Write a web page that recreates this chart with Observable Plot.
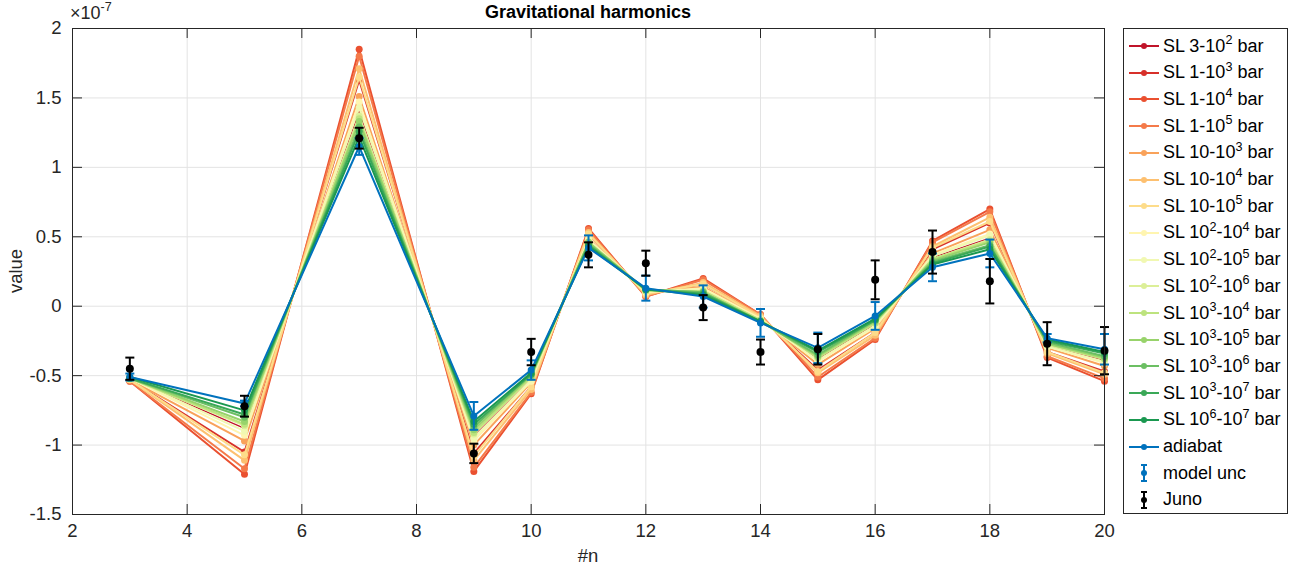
<!DOCTYPE html>
<html><head><meta charset="utf-8">
<script src="https://cdn.jsdelivr.net/npm/d3@7"></script>
<script src="https://cdn.jsdelivr.net/npm/@observablehq/plot@0.6"></script>
<style>
body{margin:0;background:#fff;font-family:"Liberation Sans",Arial,Helvetica,sans-serif;color:#262626;}
#wrap{position:relative;width:1311px;height:575px;overflow:hidden;}
#wrap svg.plot{position:absolute;left:0;top:0;}
#wrap svg.plot text{font-size:18.5px !important;font-family:"Liberation Sans",Arial,sans-serif !important;}
.ov{position:absolute;white-space:nowrap;}
#title{left:0;width:1176px;text-align:center;top:2px;font-weight:bold;font-size:18px;color:#000;}
#xlab{left:0;width:1176px;text-align:center;top:545px;font-size:18.5px;}
#ylab{left:16px;top:271px;font-size:18.5px;transform:translate(-50%,-50%) rotate(-90deg);}
#expo{left:70px;top:3px;font-size:18px;}
sup{font-size:70%;vertical-align:0;position:relative;top:-0.6em;}
#legend{position:absolute;left:1123px;top:28px;width:163px;height:484px;border:1px solid #262626;background:#fff;}
.row{position:absolute;left:0;height:22px;display:flex;align-items:center;font-size:18px;color:#000;}
.row svg{width:36px;height:22px;margin-left:3px;margin-right:0px;}
</style></head><body>
<div id="wrap">
  <div id="title" class="ov">Gravitational harmonics</div>
  <div id="expo" class="ov">×10<sup>-7</sup></div>
  <div id="xlab" class="ov">#n</div>
  <div id="ylab" class="ov">value</div>
  <div id="legend"></div>
</div>
<script>
// harmonic degree
const ns = [3, 5, 7, 9, 10, 11, 12, 13, 14, 15, 16, 17, 18, 19, 20];

// series labels (HTML for superscripts) and colours
const slLabels = [
  "SL 3-10<sup>2</sup> bar", "SL 1-10<sup>3</sup> bar", "SL 1-10<sup>4</sup> bar", "SL 1-10<sup>5</sup> bar",
  "SL 10-10<sup>3</sup> bar", "SL 10-10<sup>4</sup> bar", "SL 10-10<sup>5</sup> bar",
  "SL 10<sup>2</sup>-10<sup>4</sup> bar", "SL 10<sup>2</sup>-10<sup>5</sup> bar", "SL 10<sup>2</sup>-10<sup>6</sup> bar",
  "SL 10<sup>3</sup>-10<sup>4</sup> bar", "SL 10<sup>3</sup>-10<sup>5</sup> bar", "SL 10<sup>3</sup>-10<sup>6</sup> bar",
  "SL 10<sup>3</sup>-10<sup>7</sup> bar", "SL 10<sup>6</sup>-10<sup>7</sup> bar"
];
const slColors = [
  "#c0142a", "#d7302a", "#ea5030", "#f47a4a", "#f9a25a", "#fdc070", "#fddc8a",
  "#fff5b0", "#f1f8b2", "#dcef98", "#bde37e", "#98d36b", "#6cbf63", "#3aa857", "#1a9850"
];

// values in units of 1e-7
const sl_3_1e2    = [-0.52, -0.88, 1.40, -0.93, -0.52, 0.47, 0.11, 0.12, -0.10, -0.38, -0.13, 0.35, 0.49, -0.28, -0.39];
const sl_1_1e3    = [-0.53, -1.05, 1.63, -1.06, -0.58, 0.52, 0.09, 0.16, -0.08, -0.46, -0.19, 0.41, 0.60, -0.33, -0.47];
const sl_1_1e4    = [-0.54, -1.21, 1.85, -1.19, -0.63, 0.56, 0.07, 0.20, -0.06, -0.53, -0.24, 0.47, 0.70, -0.37, -0.54];
const sl_1_1e5    = [-0.54, -1.17, 1.80, -1.16, -0.62, 0.55, 0.07, 0.19, -0.06, -0.51, -0.23, 0.46, 0.68, -0.36, -0.52];
const sl_10_1e3   = [-0.53, -0.97, 1.51, -1.00, -0.55, 0.49, 0.10, 0.14, -0.09, -0.42, -0.16, 0.38, 0.55, -0.30, -0.43];
const sl_10_1e4   = [-0.53, -1.11, 1.71, -1.11, -0.60, 0.53, 0.08, 0.17, -0.07, -0.48, -0.21, 0.43, 0.64, -0.34, -0.49];
const sl_10_1e5   = [-0.53, -1.07, 1.65, -1.08, -0.58, 0.52, 0.09, 0.16, -0.08, -0.47, -0.19, 0.42, 0.61, -0.33, -0.48];
const sl_1e2_1e4  = [-0.52, -0.93, 1.47, -0.97, -0.54, 0.48, 0.10, 0.13, -0.09, -0.40, -0.15, 0.37, 0.52, -0.29, -0.41];
const sl_1e2_1e5  = [-0.52, -0.90, 1.43, -0.95, -0.53, 0.48, 0.11, 0.12, -0.10, -0.39, -0.14, 0.36, 0.51, -0.29, -0.40];
const sl_1e2_1e6  = [-0.52, -0.86, 1.37, -0.92, -0.51, 0.46, 0.11, 0.11, -0.10, -0.37, -0.12, 0.34, 0.48, -0.28, -0.38];
const sl_1e3_1e4  = [-0.52, -0.85, 1.35, -0.91, -0.51, 0.46, 0.11, 0.11, -0.10, -0.37, -0.12, 0.34, 0.47, -0.27, -0.38];
const sl_1e3_1e5  = [-0.52, -0.83, 1.33, -0.89, -0.50, 0.46, 0.12, 0.10, -0.11, -0.36, -0.11, 0.33, 0.46, -0.27, -0.37];
const sl_1e3_1e6  = [-0.52, -0.80, 1.29, -0.87, -0.49, 0.45, 0.12, 0.10, -0.11, -0.35, -0.10, 0.32, 0.44, -0.26, -0.36];
const sl_1e3_1e7  = [-0.52, -0.78, 1.26, -0.85, -0.49, 0.44, 0.12, 0.09, -0.11, -0.33, -0.10, 0.31, 0.43, -0.25, -0.34];
const sl_1e6_1e7  = [-0.51, -0.75, 1.22, -0.83, -0.48, 0.43, 0.12, 0.08, -0.11, -0.32, -0.09, 0.30, 0.41, -0.24, -0.33];
const adiabat     = [-0.51, -0.70, 1.15, -0.79, -0.46, 0.42, 0.13, 0.07, -0.12, -0.30, -0.07, 0.28, 0.38, -0.23, -0.31];
const modelUnc    = [0.025, 0.02, 0.06, 0.10, 0.07, 0.09, 0.09, 0.08, 0.10, 0.11, 0.10, 0.10, 0.10, 0.03, 0.11];
const juno        = [-0.45, -0.72, 1.21, -1.06, -0.33, 0.37, 0.31, -0.01, -0.33, -0.31, 0.19, 0.39, 0.18, -0.27, -0.32];
const junoErr     = [0.08, 0.075, 0.075, 0.07, 0.095, 0.09, 0.09, 0.09, 0.09, 0.11, 0.14, 0.155, 0.16, 0.155, 0.17];

const slSeries = [sl_3_1e2, sl_1_1e3, sl_1_1e4, sl_1_1e5, sl_10_1e3, sl_10_1e4, sl_10_1e5,
  sl_1e2_1e4, sl_1e2_1e5, sl_1e2_1e6, sl_1e3_1e4, sl_1e3_1e5, sl_1e3_1e6, sl_1e3_1e7, sl_1e6_1e7];

const xTicks = [2, 4, 6, 8, 10, 12, 14, 16, 18, 20];
const yTicks = [-1.5, -1, -0.5, 0, 0.5, 1, 1.5, 2];

const W = 1311, H = 575, mL = 72, mR = 207, mT = 28, mB = 61;
const fw = W - mL - mR, fh = H - mT - mB, tl = 10;

const capSymbol = {draw(ctx, size) { const r = Math.sqrt(size / Math.PI); ctx.moveTo(-r, 0); ctx.lineTo(r, 0); }};

const marks = [
  Plot.gridX(xTicks, {stroke: "#e3e3e3", strokeOpacity: 1}),
  Plot.gridY(yTicks, {stroke: "#e3e3e3", strokeOpacity: 1})
];
slSeries.forEach((vals, i) => {
  const rows = ns.map((n, j) => ({n, v: vals[j]}));
  marks.push(Plot.line(rows, {x: "n", y: "v", stroke: slColors[i], strokeWidth: i === 0 ? 1.2 : 2}));
  marks.push(Plot.dot(rows, {x: "n", y: "v", fill: slColors[i], r: i === 0 ? 2.5 : 3.5}));
});
const adRows = ns.map((n, j) => ({n, v: adiabat[j], lo: adiabat[j] - modelUnc[j], hi: adiabat[j] + modelUnc[j]}));
const juRows = ns.map((n, j) => ({n, v: juno[j], lo: juno[j] - junoErr[j], hi: juno[j] + junoErr[j]}));
marks.push(
  Plot.line(adRows, {x: "n", y: "v", stroke: "#0072bd", strokeWidth: 2}),
  Plot.dot(adRows, {x: "n", y: "v", fill: "#0072bd", r: 3.5}),
  Plot.ruleX(adRows, {x: "n", y1: "lo", y2: "hi", stroke: "#0072bd", strokeWidth: 2}),
  Plot.dot(adRows, {x: "n", y: "lo", symbol: capSymbol, r: 4.5, stroke: "#0072bd", strokeWidth: 2, fill: "none"}),
  Plot.dot(adRows, {x: "n", y: "hi", symbol: capSymbol, r: 4.5, stroke: "#0072bd", strokeWidth: 2, fill: "none"}),
  Plot.ruleX(juRows, {x: "n", y1: "lo", y2: "hi", stroke: "#000", strokeWidth: 2}),
  Plot.dot(juRows, {x: "n", y: "lo", symbol: capSymbol, r: 4.5, stroke: "#000", strokeWidth: 2, fill: "none"}),
  Plot.dot(juRows, {x: "n", y: "hi", symbol: capSymbol, r: 4.5, stroke: "#000", strokeWidth: 2, fill: "none"}),
  Plot.dot(juRows, {x: "n", y: "v", fill: "#000", r: 4}),
  Plot.frame({stroke: "#262626", strokeWidth: 1}),
  Plot.tickX(xTicks, {x: d => d, stroke: "#262626", insetTop: fh - tl}),
  Plot.tickX(xTicks, {x: d => d, stroke: "#262626", insetBottom: fh - tl}),
  Plot.tickY(yTicks, {y: d => d, stroke: "#262626", insetRight: fw - tl}),
  Plot.tickY(yTicks, {y: d => d, stroke: "#262626", insetLeft: fw - tl}),
  Plot.axisX(xTicks, {tickSize: 0, tickPadding: 9, label: null, fill: "#262626"}),
  Plot.axisY(yTicks, {tickSize: 0, tickPadding: 11, label: null, fill: "#262626", tickFormat: d => String(d)})
);

const chart = Plot.plot({
  width: W, height: H, marginLeft: mL, marginRight: mR, marginTop: mT, marginBottom: mB,
  style: {fontFamily: "'Liberation Sans', Arial, sans-serif", fontSize: "18.5px", background: "transparent", color: "#262626"},
  x: {domain: [2, 20], label: null},
  y: {domain: [-1.5, 2], label: null},
  marks
});
chart.classList.add("plot");
const wrap = document.getElementById("wrap");
wrap.insertBefore(chart, wrap.firstChild);

// legend
const legend = document.getElementById("legend");
const entries = slLabels.map((lab, i) => ({lab, kind: "line", color: slColors[i]}))
  .concat([{lab: "adiabat", kind: "line", color: "#0072bd"},
           {lab: "model unc", kind: "err", color: "#0072bd"},
           {lab: "Juno", kind: "err", color: "#000"}]);
entries.forEach((e, i) => {
  const row = document.createElement("div");
  row.className = "row";
  row.style.top = (17 - 11 + i * 26.7) + "px";
  let svg;
  if (e.kind === "line") {
    svg = `<svg viewBox="0 0 36 22"><line x1="2" x2="32" y1="11" y2="11" stroke="${e.color}" stroke-width="2"/><circle cx="17" cy="11" r="3" fill="${e.color}"/></svg>`;
  } else {
    svg = `<svg viewBox="0 0 36 22"><line x1="17" x2="17" y1="3" y2="19" stroke="${e.color}" stroke-width="2"/><line x1="14" x2="20" y1="3" y2="3" stroke="${e.color}" stroke-width="2"/><line x1="14" x2="20" y1="19" y2="19" stroke="${e.color}" stroke-width="2"/><circle cx="17" cy="11" r="3" fill="${e.color}"/></svg>`;
  }
  row.innerHTML = svg + `<span>${e.lab}</span>`;
  legend.appendChild(row);
});
</script>
</body></html>
